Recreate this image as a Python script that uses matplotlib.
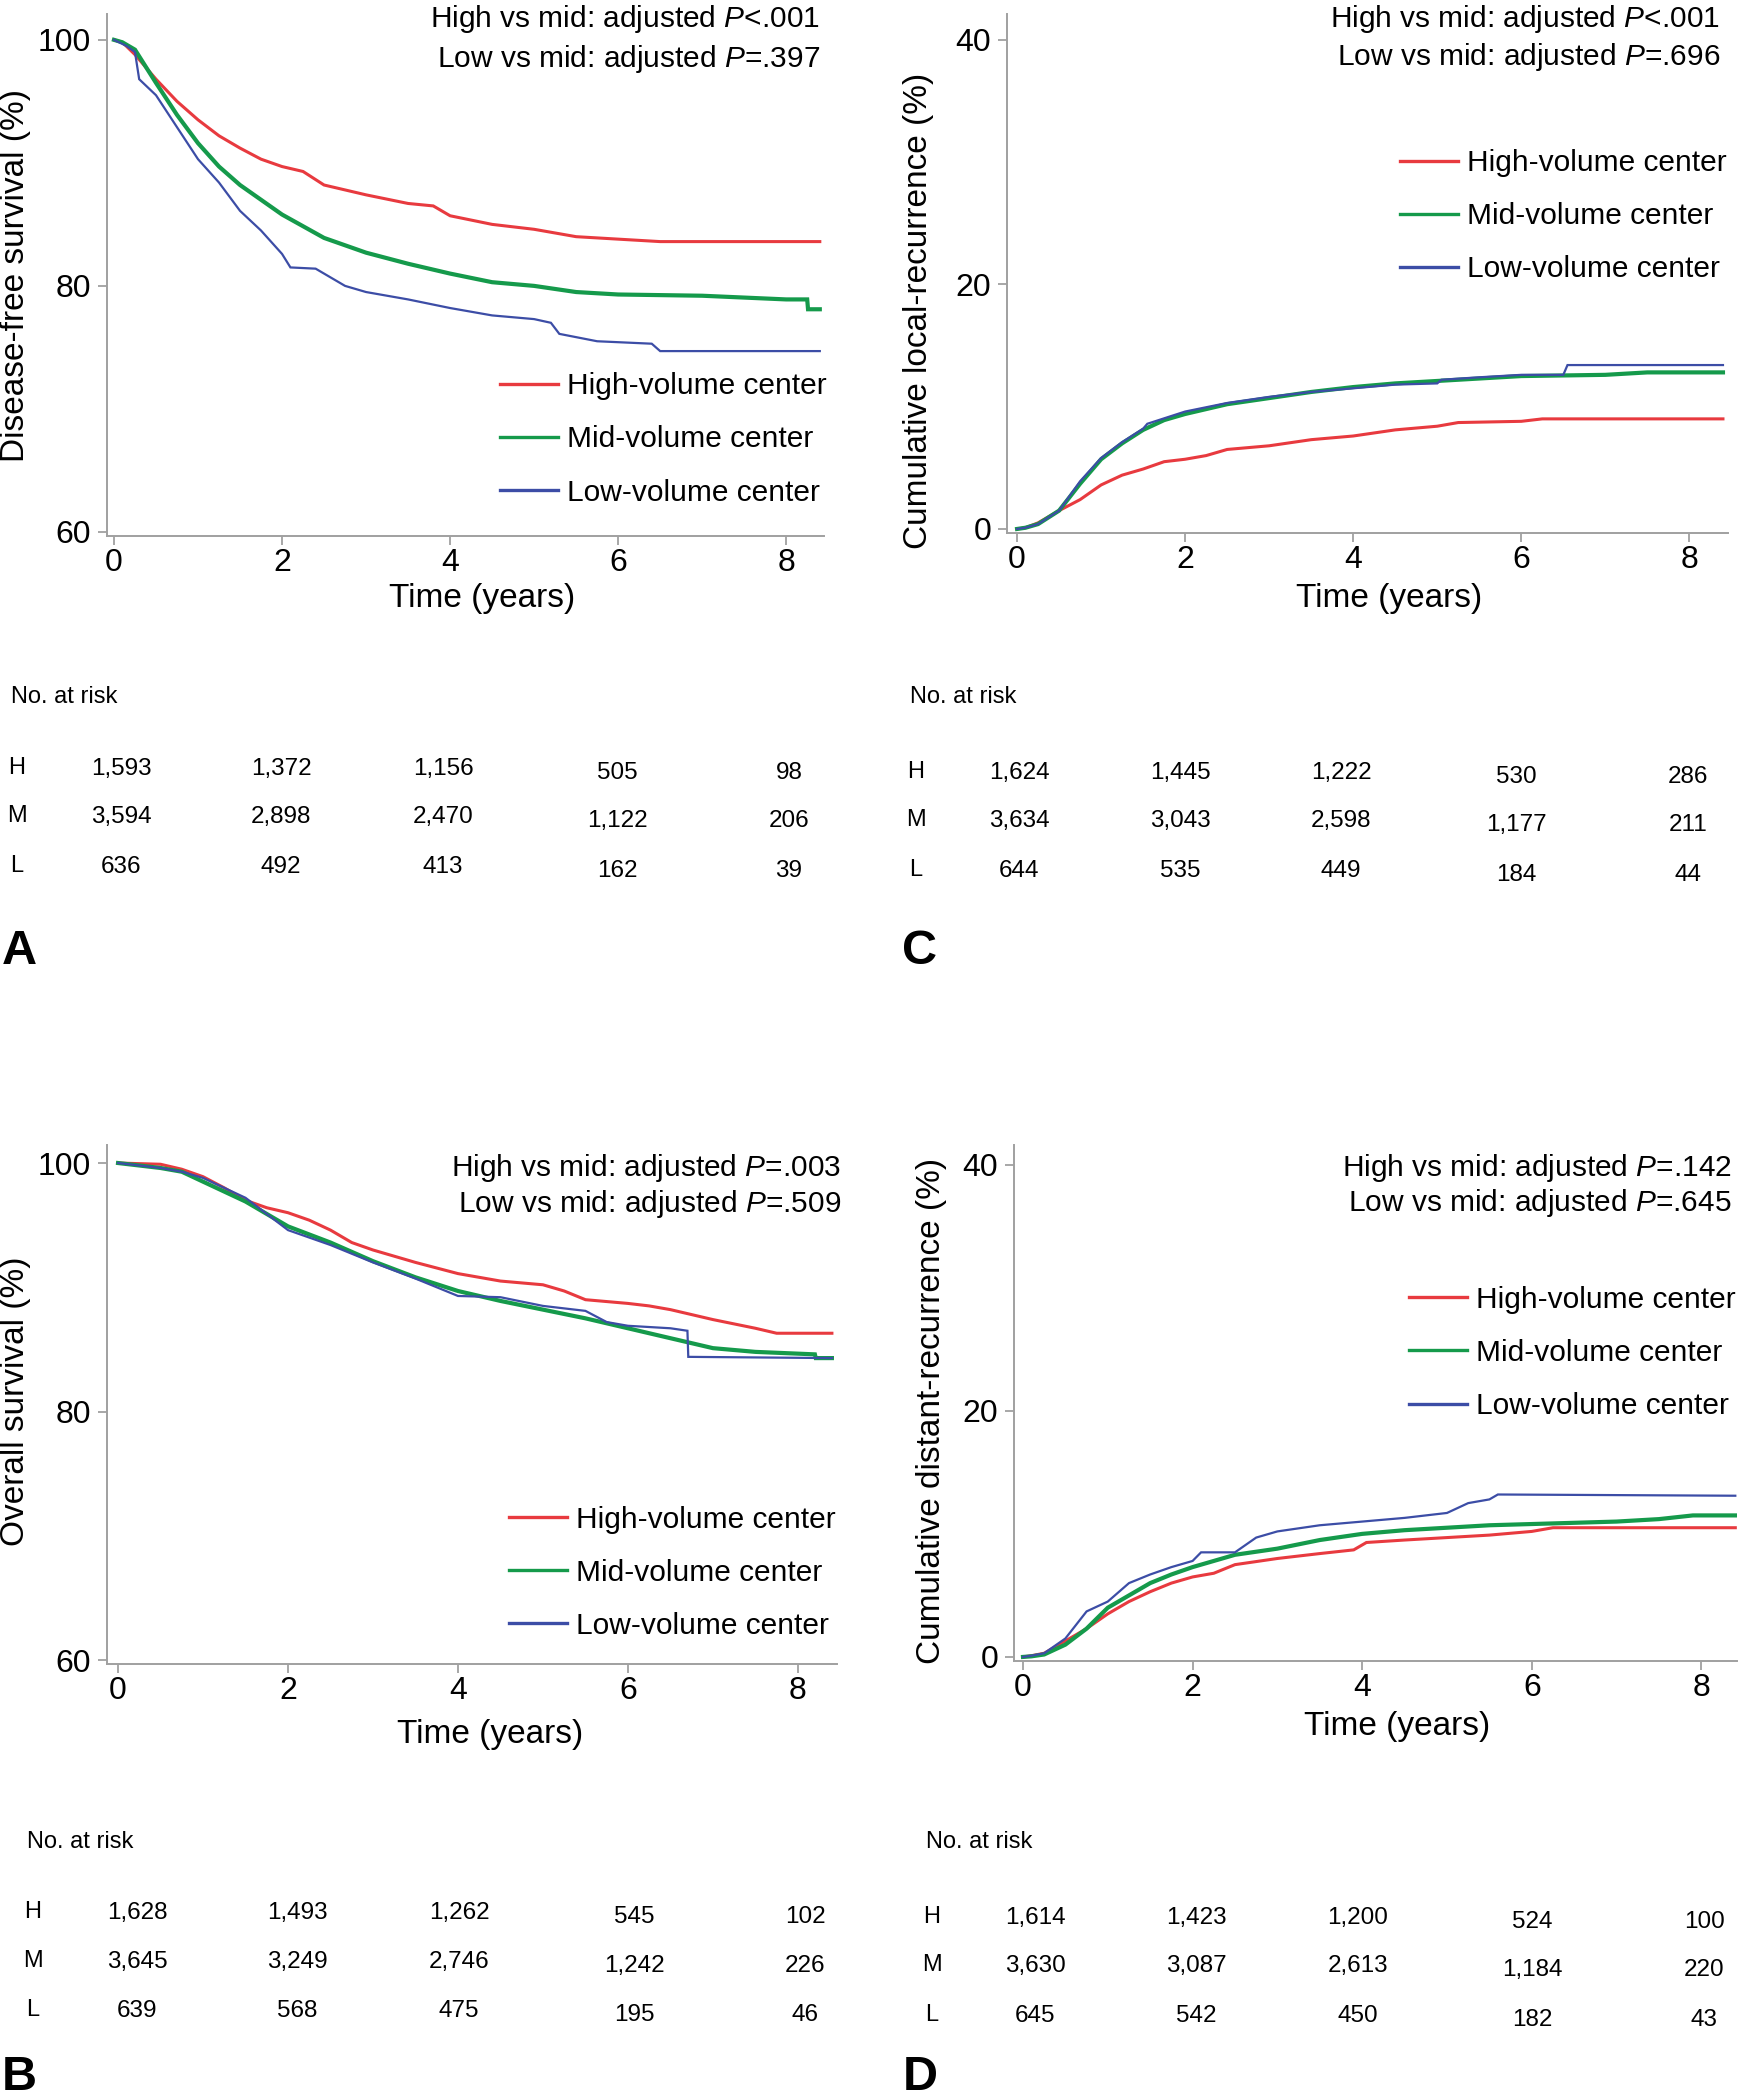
import numpy as np
import matplotlib
matplotlib.use('Agg')
from matplotlib import pyplot as plt

plt.rcParams['font.family'] = 'Liberation Sans'
plt.rcParams['mathtext.fontset'] = 'custom'
plt.rcParams['mathtext.rm'] = 'Liberation Sans'
plt.rcParams['mathtext.it'] = 'Liberation Sans:italic'

# ---- data ----
groups = ['High-volume center', 'Mid-volume center', 'Low-volume center']
colors = ['#e83a3f', '#159a4b', '#3c4da6']
widths = [2.2, 3.0, 1.6]

# A: disease-free survival
dfs_high_t = [0, 0.1, 0.25, 0.5, 0.75, 1, 1.25, 1.5, 1.75, 2, 2.25, 2.5, 3, 3.5, 3.8, 4, 4.5, 5, 5.5, 6, 6.5, 8.4]
dfs_high = [100, 99.8, 98.8, 96.8, 95, 93.5, 92.2, 91.2, 90.3, 89.7, 89.3, 88.2, 87.4, 86.7, 86.5, 85.7, 85, 84.6, 84.0, 83.8, 83.6, 83.6]
dfs_mid_t = [0, 0.1, 0.25, 0.5, 0.75, 1, 1.25, 1.5, 2, 2.5, 3, 3.5, 4, 4.5, 5, 5.5, 6, 7, 8, 8.25, 8.26, 8.4]
dfs_mid = [100, 99.8, 99.2, 96.5, 93.9, 91.6, 89.7, 88.2, 85.8, 83.9, 82.7, 81.8, 81.0, 80.3, 80.0, 79.5, 79.3, 79.2, 78.9, 78.9, 78.1, 78.1]
dfs_low_t = [0, 0.15, 0.25, 0.3, 0.5, 0.75, 1, 1.25, 1.5, 1.75, 2, 2.1, 2.4, 2.75, 3, 3.5, 4, 4.5, 5, 5.2, 5.3, 5.75, 6.4, 6.5, 8.4]
dfs_low = [100, 99.5, 99, 96.8, 95.5, 92.9, 90.3, 88.4, 86.1, 84.5, 82.6, 81.5, 81.4, 80, 79.5, 78.9, 78.2, 77.6, 77.3, 77.0, 76.1, 75.5, 75.3, 74.7, 74.7]

# B: overall survival
os_high_t = [0, 0.5, 0.75, 1, 1.25, 1.5, 1.75, 2, 2.25, 2.5, 2.75, 3, 3.5, 4, 4.5, 5, 5.25, 5.5, 6, 6.25, 6.5, 7, 7.5, 7.75, 8.4]
os_high = [100, 99.9, 99.5, 98.9, 98, 97, 96.4, 96, 95.4, 94.6, 93.6, 93, 92, 91.1, 90.5, 90.2, 89.7, 89, 88.7, 88.5, 88.2, 87.4, 86.7, 86.3, 86.3]
os_mid_t = [0, 0.5, 0.75, 1, 1.25, 1.5, 1.75, 2, 2.5, 3, 3.5, 4, 4.5, 5, 5.5, 6, 6.5, 7, 7.5, 8.2, 8.21, 8.4]
os_mid = [100, 99.6, 99.3, 98.5, 97.7, 96.9, 95.9, 94.9, 93.6, 92.1, 90.8, 89.7, 88.9, 88.2, 87.5, 86.7, 85.9, 85.1, 84.8, 84.6, 84.3, 84.3]
os_low_t = [0, 0.5, 0.75, 1, 1.5, 2, 2.5, 3, 3.5, 4, 4.5, 5, 5.5, 5.75, 6, 6.5, 6.7, 6.71, 8.4]
os_low = [100, 99.6, 99.3, 98.8, 97.2, 94.6, 93.4, 92, 90.7, 89.3, 89.2, 88.5, 88.1, 87.2, 86.9, 86.7, 86.5, 84.4, 84.3]

# C: cumulative local recurrence
lr_high_t = [0, 0.1, 0.25, 0.5, 0.75, 1, 1.25, 1.5, 1.75, 2, 2.25, 2.5, 3, 3.5, 4, 4.5, 5, 5.25, 6, 6.25, 8.4]
lr_high = [0, 0.1, 0.5, 1.5, 2.4, 3.6, 4.4, 4.9, 5.5, 5.7, 6.0, 6.5, 6.8, 7.3, 7.6, 8.1, 8.4, 8.7, 8.8, 9.0, 9.0]
lr_mid_t = [0, 0.1, 0.25, 0.5, 0.75, 1, 1.25, 1.5, 1.75, 2, 2.5, 3, 3.5, 4, 4.5, 5, 6, 7, 7.5, 8.4]
lr_mid = [0, 0.1, 0.4, 1.5, 3.7, 5.7, 7.0, 8.1, 8.9, 9.4, 10.2, 10.7, 11.2, 11.6, 11.9, 12.1, 12.5, 12.6, 12.8, 12.8]
lr_low_t = [0, 0.1, 0.25, 0.5, 0.75, 1, 1.25, 1.5, 1.55, 2, 2.5, 3, 3.5, 4, 4.5, 5, 5.05, 5.5, 6, 6.5, 6.55, 8.4]
lr_low = [0, 0.1, 0.4, 1.5, 3.9, 5.8, 7.1, 8.2, 8.6, 9.6, 10.3, 10.8, 11.2, 11.5, 11.8, 11.9, 12.2, 12.4, 12.6, 12.6, 13.4, 13.4]

# D: cumulative distant recurrence
dr_high_t = [0, 0.1, 0.25, 0.5, 0.75, 1, 1.25, 1.5, 1.75, 2, 2.25, 2.5, 3, 3.5, 3.9, 4.05, 4.5, 5, 5.5, 6, 6.25, 8.4]
dr_high = [0, 0.1, 0.3, 1.3, 2.3, 3.5, 4.5, 5.3, 6.0, 6.5, 6.8, 7.5, 8.0, 8.4, 8.7, 9.3, 9.5, 9.7, 9.9, 10.2, 10.5, 10.5]
dr_mid_t = [0, 0.1, 0.25, 0.5, 0.75, 1, 1.25, 1.5, 1.75, 2, 2.5, 3, 3.5, 4, 4.5, 5, 5.5, 6, 7, 7.5, 7.9, 8.4]
dr_mid = [0, 0.05, 0.2, 1.0, 2.3, 4.0, 5.0, 6.0, 6.7, 7.3, 8.3, 8.8, 9.5, 10.0, 10.3, 10.5, 10.7, 10.8, 11.0, 11.2, 11.5, 11.5]
dr_low_t = [0, 0.1, 0.25, 0.5, 0.75, 1, 1.25, 1.5, 1.75, 2, 2.1, 2.5, 2.75, 3, 3.5, 4, 4.5, 5, 5.25, 5.5, 5.6, 8.4]
dr_low = [0, 0.1, 0.3, 1.5, 3.7, 4.5, 6.0, 6.7, 7.3, 7.8, 8.5, 8.5, 9.7, 10.2, 10.7, 11.0, 11.3, 11.7, 12.5, 12.8, 13.2, 13.1]

# numbers at risk (H, M, L) at 0, 2, 4, 6, 8 years
risk_A = [['1,593', '1,372', '1,156', '505', '98'],
          ['3,594', '2,898', '2,470', '1,122', '206'],
          ['636', '492', '413', '162', '39']]
risk_B = [['1,628', '1,493', '1,262', '545', '102'],
          ['3,645', '3,249', '2,746', '1,242', '226'],
          ['639', '568', '475', '195', '46']]
risk_C = [['1,624', '1,445', '1,222', '530', '286'],
          ['3,634', '3,043', '2,598', '1,177', '211'],
          ['644', '535', '449', '184', '44']]
risk_D = [['1,614', '1,423', '1,200', '524', '100'],
          ['3,630', '3,087', '2,613', '1,184', '220'],
          ['645', '542', '450', '182', '43']]
row_names = ['H', 'M', 'L']

W, H = 1744, 2100
fig = plt.figure(figsize=(W / 100, H / 100), dpi=100)


def fx(px):
    return px / W


def fy(py):
    return 1 - py / H


def make_ax(l, t, r, b):
    return fig.add_axes([fx(l), fy(b), (r - l) / W, (b - t) / H])


def style(ax, xlim, ylim, yticks):
    ax.set_xlim(xlim)
    ax.set_ylim(ylim)
    ax.set_xticks([0, 2, 4, 6, 8])
    ax.set_yticks(yticks)
    for s in ['top', 'right']:
        ax.spines[s].set_visible(False)
    for s in ['left', 'bottom']:
        ax.spines[s].set_color('#a0a0a0')
        ax.spines[s].set_linewidth(1.4)
    ax.tick_params(direction='out', length=6.5, width=1.3, color='#a0a0a0',
                   labelsize=23, pad=5)
    ax.tick_params(axis='x', pad=2)


panels = [
    dict(box=(107, 14, 824, 536), xlim=(-0.083, 8.45), ylim=(59.67, 102.1), yticks=[60, 80, 100],
         curves=[(dfs_high_t, dfs_high), (dfs_mid_t, dfs_mid), (dfs_low_t, dfs_low)],
         ylabel='Disease-free survival (%)',
         p=['High vs mid: adjusted $P$<.001', 'Low vs mid: adjusted $P$=.397'], p_xy=(820, 27, 67),
         leg=(0.548, 0.185)),
    dict(box=(1007, 14, 1728, 533), xlim=(-0.12, 8.46), ylim=(-0.33, 42.1), yticks=[0, 20, 40],
         curves=[(lr_high_t, lr_high), (lr_mid_t, lr_mid), (lr_low_t, lr_low)],
         ylabel='Cumulative local-recurrence (%)',
         p=['High vs mid: adjusted $P$<.001', 'Low vs mid: adjusted $P$=.696'], p_xy=(1720, 27, 65),
         leg=(0.545, 0.61)),
    dict(box=(107, 1145, 837, 1664), xlim=(-0.13, 8.46), ylim=(59.68, 101.45), yticks=[60, 80, 100],
         curves=[(os_high_t, os_high), (os_mid_t, os_mid), (os_low_t, os_low)],
         ylabel='Overall survival (%)',
         p=['High vs mid: adjusted $P$=.003', 'Low vs mid: adjusted $P$=.509'], p_xy=(841, 1176, 1212),
         leg=(0.551, 0.176)),
    dict(box=(1014, 1145, 1737, 1661), xlim=(-0.106, 8.42), ylim=(-0.33, 41.6), yticks=[0, 20, 40],
         curves=[(dr_high_t, dr_high), (dr_mid_t, dr_mid), (dr_low_t, dr_low)],
         ylabel='Cumulative distant-recurrence (%)',
         p=['High vs mid: adjusted $P$=.142', 'Low vs mid: adjusted $P$=.645'], p_xy=(1732, 1176, 1211),
         leg=(0.546, 0.597)),
]

ylabel_pos = [(16, 275), (918, 311), (16, 1401), (931, 1411)]
xlabel_pos = [(482, 599), (1389, 599), (490, 1735), (1397, 1727)]

for i, pn in enumerate(panels):
    ax = make_ax(*pn['box'])
    style(ax, pn['xlim'], pn['ylim'], pn['yticks'])
    lines = []
    for (t, v), c, lw, g in zip(pn['curves'], colors, widths, groups):
        ln, = ax.plot(t, v, color=c, lw=lw, label=g, solid_joinstyle='miter')
        lines.append(ln)
    ax.legend(handles=lines, loc='center left', bbox_to_anchor=pn['leg'], frameon=False,
              fontsize=21.5, handlelength=1.95, handletextpad=0.3, labelspacing=0.84,
              borderpad=0, borderaxespad=0)
    for ln in ax.get_legend().get_lines():
        ln.set_linewidth(2.4)
    xr, y1, y2 = pn['p_xy']
    fig.text(fx(xr), fy(y1), pn['p'][0], ha='right', va='baseline', fontsize=21.5)
    fig.text(fx(xr), fy(y2), pn['p'][1], ha='right', va='baseline', fontsize=21.5)
    fig.text(fx(ylabel_pos[i][0]), fy(ylabel_pos[i][1]), pn['ylabel'], rotation=90,
             ha='center', va='center', fontsize=24)
    fig.text(fx(xlabel_pos[i][0]), fy(xlabel_pos[i][1]), 'Time (years)',
             ha='center', va='center', fontsize=24)

# at-risk tables
tables = [
    dict(risk=risk_A, title=(11, 697), lab_x=17, rows=[769, 817, 867], cols=[121, 281, 443, 617, 789]),
    dict(risk=risk_C, title=(910, 697), lab_x=916, rows=[773, 821, 871], cols=[1019, 1180, 1341, 1516, 1688]),
    dict(risk=risk_B, title=(27, 1842), lab_x=33, rows=[1913, 1962, 2011], cols=[137, 297, 459, 634, 805]),
    dict(risk=risk_D, title=(926, 1842), lab_x=932, rows=[1918, 1966, 2016], cols=[1035, 1196, 1358, 1532, 1704]),
]
for tb in tables:
    fig.text(fx(tb['title'][0]), fy(tb['title'][1]), 'No. at risk', ha='left', va='center', fontsize=17)
    for r, name in enumerate(row_names):
        y = tb['rows'][r]
        fig.text(fx(tb['lab_x']), fy(y - 1), name, ha='center', va='center', fontsize=17)
        for c, val in enumerate(tb['risk'][r]):
            dy = 4 if c >= 3 else 0
            fig.text(fx(tb['cols'][c]), fy(y + dy), val, ha='center', va='center', fontsize=17.5)

# panel letters
for letter, (x, y) in zip('ACBD', [(19, 952), (920, 952), (19, 2077), (920, 2077)]):
    fig.text(fx(x), fy(y), letter, ha='center', va='center', fontsize=35, fontweight='bold')

fig.savefig('out.png', dpi=100)
